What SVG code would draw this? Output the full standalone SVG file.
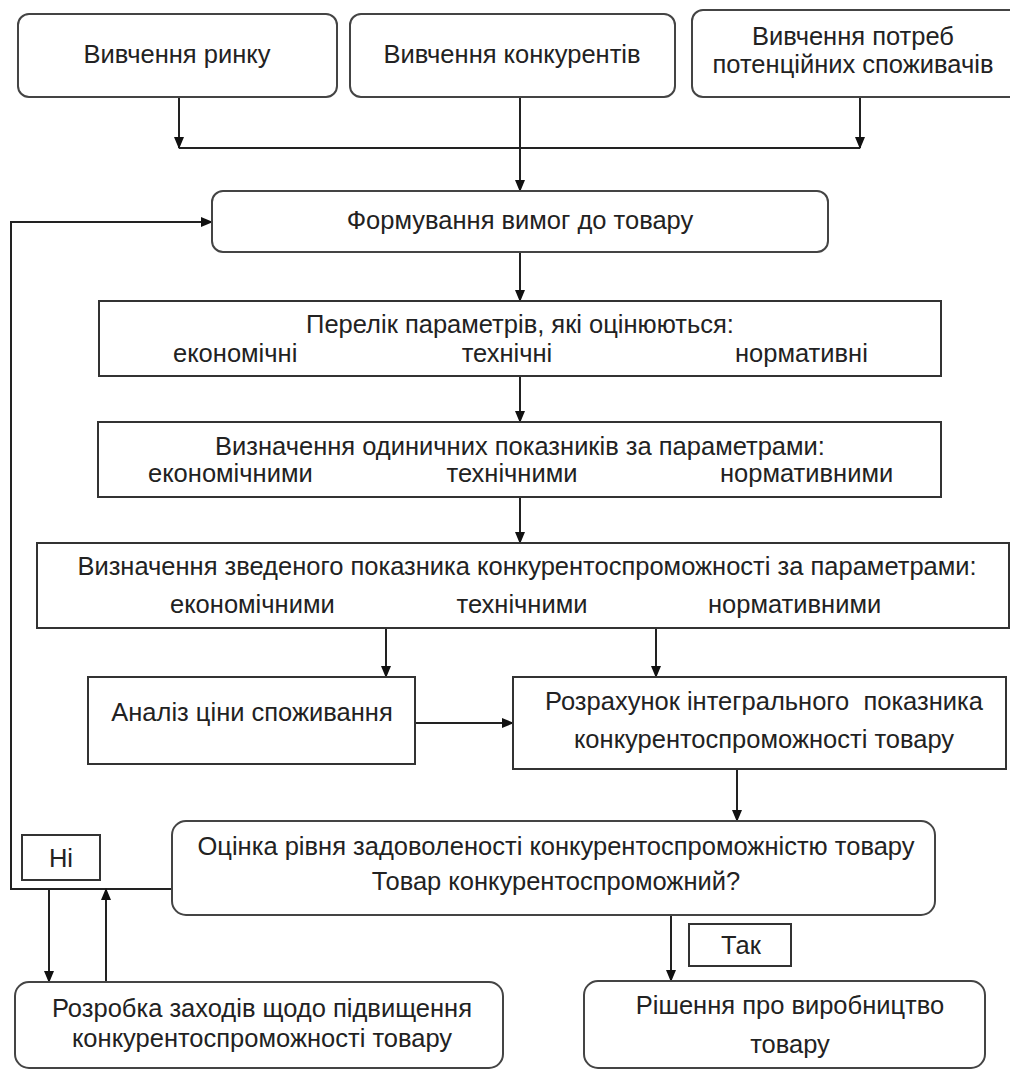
<svg xmlns="http://www.w3.org/2000/svg" width="1010" height="1071" viewBox="0 0 1010 1071">
<defs>
<marker id="arr" markerWidth="12" markerHeight="12" refX="11" refY="6" orient="auto" markerUnits="userSpaceOnUse">
<path d="M0,1 L12,6 L0,11 Z" fill="#111"/>
</marker>
<style>
.rb{fill:#fff;stroke:#444;stroke-width:2}
.sq{fill:#fff;stroke:#333;stroke-width:2}
.t{font-family:"Liberation Sans",Arial,sans-serif;font-size:25.5px;fill:#222}
.c{text-anchor:middle}
.ln{fill:none;stroke:#222;stroke-width:2}
.ar{fill:none;stroke:#222;stroke-width:2;marker-end:url(#arr)}
</style>
</defs>
<rect width="1010" height="1071" fill="#fff"/>

<g id="connectors">
<path class="ar" d="M179,97 V148"/>
<path class="ar" d="M860,97 V148"/>
<path class="ln" d="M179,148 H860"/>
<path class="ar" d="M520,97 V191"/>
<path class="ar" d="M520,252 V301"/>
<path class="ar" d="M520,376 V422"/>
<path class="ar" d="M520,497 V543"/>
<path class="ar" d="M386,628 V677"/>
<path class="ar" d="M656,628 V677"/>
<path class="ar" d="M415,723 H513"/>
<path class="ar" d="M737,769 V821"/>
<path class="ar" d="M172,889 H11 V222 H212"/>
<path class="ar" d="M49,889 V982"/>
<path class="ar" d="M106,982 V889"/>
<path class="ar" d="M671,915 V981"/>
</g>

<g id="n1">
<rect class="rb" x="18" y="14" width="319" height="83" rx="11"/>
<text class="t c" x="177" y="63">Вивчення ринку</text>
</g>
<g id="n2">
<rect class="rb" x="350" y="14" width="325" height="83" rx="11"/>
<text class="t c" x="512" y="63">Вивчення конкурентів</text>
</g>
<g id="n3">
<rect class="rb" x="692" y="10" width="330" height="87" rx="11"/>
<text class="t c" x="853" y="45">Вивчення потреб</text>
<text class="t c" x="853" y="73">потенційних споживачів</text>
</g>
<g id="n4">
<rect class="rb" x="212" y="191" width="616" height="61" rx="11"/>
<text class="t c" x="520" y="229">Формування вимог до товару</text>
</g>
<g id="n5">
<rect class="sq" x="99" y="301" width="842" height="75"/>
<text class="t c" x="520" y="333">Перелік параметрів, які оцінюються:</text>
<text class="t" x="173" y="362">економічні</text>
<text class="t c" x="507" y="362">технічні</text>
<text class="t" x="735" y="362">нормативні</text>
</g>
<g id="n6">
<rect class="sq" x="98" y="422" width="843" height="75"/>
<text class="t c" x="520" y="455">Визначення одиничних показників за параметрами:</text>
<text class="t" x="148" y="482">економічними</text>
<text class="t c" x="512" y="482">технічними</text>
<text class="t" x="720" y="482">нормативними</text>
</g>
<g id="n7">
<rect class="sq" x="37" y="543" width="972" height="85"/>
<text class="t c" x="527" y="575">Визначення зведеного показника конкурентоспроможності за параметрами:</text>
<text class="t" x="170" y="613">економічними</text>
<text class="t c" x="522" y="613">технічними</text>
<text class="t" x="708" y="613">нормативними</text>
</g>
<g id="n8">
<rect class="sq" x="88" y="677" width="327" height="87"/>
<text class="t c" x="252" y="721">Аналіз ціни споживання</text>
</g>
<g id="n9">
<rect class="sq" x="513" y="677" width="493" height="92"/>
<text class="t c" x="764" y="710" xml:space="preserve">Розрахунок інтегрального  показника</text>
<text class="t c" x="764" y="748">конкурентоспроможності товару</text>
</g>
<g id="n10">
<rect class="rb" x="172" y="821" width="763" height="94" rx="14"/>
<text class="t c" x="556" y="855">Оцінка рівня задоволеності конкурентоспроможністю товару</text>
<text class="t c" x="556" y="890">Товар конкурентоспроможний?</text>
</g>
<g id="n11">
<rect class="sq" x="22" y="835" width="78" height="45"/>
<text class="t c" x="61" y="867">Ні</text>
</g>
<g id="n12">
<rect class="sq" x="689" y="924" width="102" height="42"/>
<text class="t c" x="741" y="954">Так</text>
</g>
<g id="n13">
<rect class="rb" x="15" y="982" width="488" height="86" rx="14"/>
<text class="t c" x="262" y="1017">Розробка заходів щодо підвищення</text>
<text class="t c" x="262" y="1047">конкурентоспроможності товару</text>
</g>
<g id="n14">
<rect class="rb" x="584" y="981" width="401" height="87" rx="14"/>
<text class="t c" x="790" y="1014">Рішення про виробництво</text>
<text class="t c" x="790" y="1053">товару</text>
</g>
</svg>
